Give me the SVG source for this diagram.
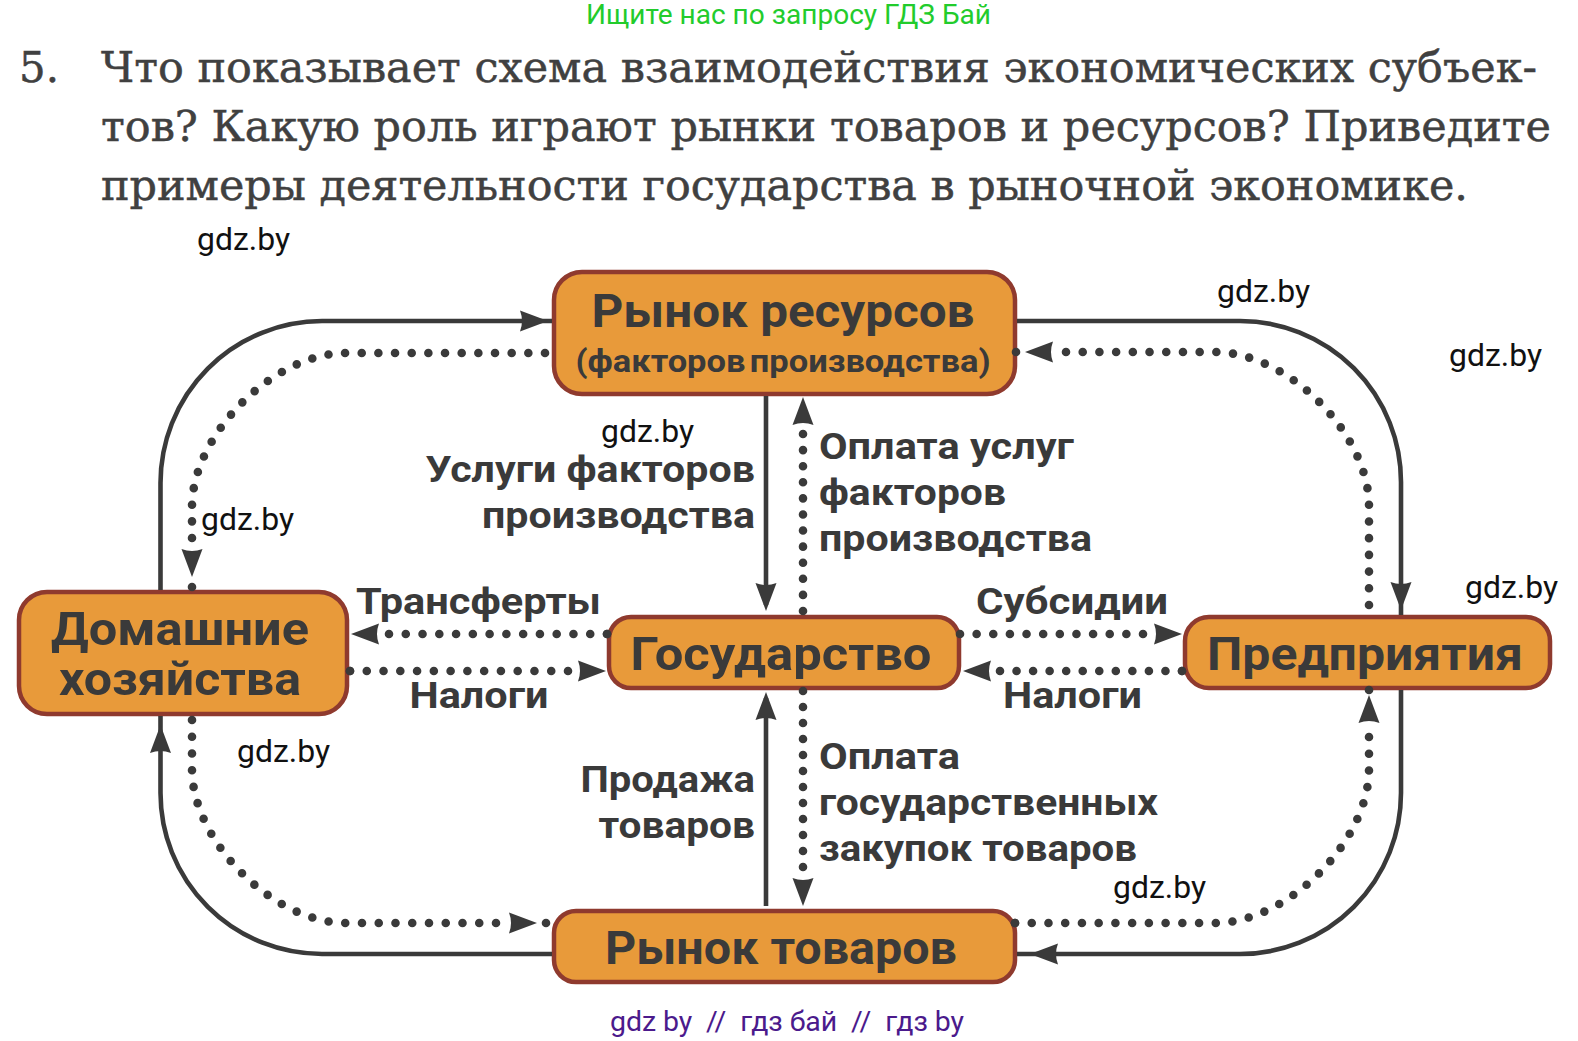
<svg xmlns="http://www.w3.org/2000/svg" width="1578" height="1041" viewBox="0 0 1578 1041">
<style>
text{font-family:Roboto,"Liberation Sans",sans-serif;fill:#3a3a3a}
.h{font-family:"DejaVu Serif","Liberation Serif",serif;font-size:42px;fill:#404040;stroke:#404040;stroke-width:.5}
.w{font-size:31px;fill:#111}
.n{font-weight:700;font-size:46px;text-anchor:middle}
.l{font-weight:700;font-size:37px}
.box{fill:#e89a3a;stroke:#8f3a2e;stroke-width:4.5}
.s{fill:none;stroke:#3a3a3a;stroke-width:4.6}
.d{fill:none;stroke:#3a3a3a;stroke-width:8.6;stroke-linecap:round;stroke-dasharray:0 1}
.a,.o{fill:#3a3a3a}
</style>
<defs><path id="arrow" d="M-28,-10.5 L0,0 L-28,10.5 Q-24,0 -28,-10.5Z"/></defs>
<rect width="1578" height="1041" fill="#fff"/>
<text x="586" y="24" font-size="28.5" textLength="405" lengthAdjust="spacingAndGlyphs" style="fill:#22cc2c">Ищите нас по запросу ГДЗ Бай</text>
<g id="question">
<text class="h" x="19" y="82" textLength="40" lengthAdjust="spacingAndGlyphs">5.</text>
<text class="h" x="101" y="82" textLength="1436" lengthAdjust="spacingAndGlyphs">Что показывает схема взаимодействия экономических субъек-</text>
<text class="h" x="101" y="141" textLength="1450" lengthAdjust="spacingAndGlyphs">тов? Какую роль играют рынки товаров и ресурсов? Приведите</text>
<text class="h" x="101" y="200" textLength="1367" lengthAdjust="spacingAndGlyphs">примеры деятельности государства в рыночной экономике.</text>
</g>
<g id="node-resources">
<rect class="box" x="554" y="272" width="461" height="122" rx="28"/>
<text class="n" x="783" y="327" textLength="383" lengthAdjust="spacingAndGlyphs">Рынок ресурсов</text>
<text class="n" x="783" y="372" style="font-size:32px;word-spacing:-4px" textLength="415" lengthAdjust="spacingAndGlyphs">(факторов производства)</text>
</g>
<g id="node-households">
<rect class="box" x="19" y="592" width="328" height="122" rx="28"/>
<text class="n" x="180" y="645" textLength="258" lengthAdjust="spacingAndGlyphs">Домашние</text>
<text class="n" x="180" y="695" textLength="242" lengthAdjust="spacingAndGlyphs">хозяйства</text>
</g>
<g id="node-government">
<rect class="box" x="609" y="617" width="350" height="71" rx="22"/>
<text class="n" x="781" y="670" textLength="301" lengthAdjust="spacingAndGlyphs">Государство</text>
</g>
<g id="node-firms">
<rect class="box" x="1185" y="617" width="365" height="71" rx="24"/>
<text class="n" x="1365" y="670" textLength="316" lengthAdjust="spacingAndGlyphs">Предприятия</text>
</g>
<g id="node-goods">
<rect class="box" x="554" y="911" width="461" height="71" rx="22"/>
<text class="n" x="781" y="964" textLength="352" lengthAdjust="spacingAndGlyphs">Рынок товаров</text>
</g>
<g id="connectors">
<path class="s" d="M160.5,590V483A162,162 0 0 1 322,321H552"/>
<path class="s" d="M1017,321H1240A161,161 0 0 1 1401,482V615"/>
<path class="s" d="M552,954H322A161.500,161 0 0 1 160.500,793V716"/>
<path class="s" d="M1401,690V793A161,161 0 0 1 1240,954H1017"/>
<path class="s" d="M766,396V605"/>
<path class="s" d="M766,906V698"/>
<path class="d" pathLength="28" d="M192,538V507C192,434.600 273.600,353 346,353H545"/>
<path class="d" pathLength="29" d="M1066,352H1215C1287.400,352 1369,433.600 1369,506V605"/>
<path class="d" pathLength="26" d="M496,923H346C273.600,923 192,841.400 192,769V720"/>
<path class="d" pathLength="28" d="M1369,737V769C1369,841.400 1287.400,923 1215,923H1015"/>
<path class="d" pathLength="11" d="M803,434V611"/>
<path class="d" pathLength="11" d="M803,867V691"/>
<path class="d" pathLength="13" d="M389,634H607"/>
<path class="d" pathLength="13" d="M568,671H350"/>
<path class="d" pathLength="11" d="M1143,634H960"/>
<path class="d" pathLength="11" d="M1000,671H1182"/>
<g class="o">
<circle cx="545" cy="353" r="4.3"/><circle cx="1369" cy="605" r="4.3"/><circle cx="192" cy="720" r="4.3"/><circle cx="1015" cy="923" r="4.3"/>
<circle cx="803" cy="611" r="4.3"/><circle cx="803" cy="691" r="4.3"/><circle cx="607" cy="634" r="4.3"/><circle cx="350" cy="671" r="4.3"/>
<circle cx="960" cy="634" r="4.3"/><circle cx="1182" cy="671" r="4.3"/>
<circle cx="1016" cy="352" r="4.3"/><circle cx="192" cy="587" r="4.3"/><circle cx="546" cy="923" r="4.3"/><circle cx="1369" cy="690" r="4.3"/>
</g>
<use href="#arrow" class="a" transform="translate(548,321)"/>
<use href="#arrow" class="a" transform="translate(1401,610) rotate(90)"/>
<use href="#arrow" class="a" transform="translate(160.500,725) rotate(-90)"/>
<use href="#arrow" class="a" transform="translate(1030,954) rotate(180)"/>
<use href="#arrow" class="a" transform="translate(766,611) rotate(90)"/>
<use href="#arrow" class="a" transform="translate(766,692) rotate(-90)"/>
<use href="#arrow" class="a" transform="translate(803,397) rotate(-90)"/>
<use href="#arrow" class="a" transform="translate(803,906) rotate(90)"/>
<use href="#arrow" class="a" transform="translate(1025,352) rotate(180)"/>
<use href="#arrow" class="a" transform="translate(192,577) rotate(90)"/>
<use href="#arrow" class="a" transform="translate(537,923)"/>
<use href="#arrow" class="a" transform="translate(1369,695) rotate(-90)"/>
<use href="#arrow" class="a" transform="translate(351,634) rotate(180)"/>
<use href="#arrow" class="a" transform="translate(606,671)"/>
<use href="#arrow" class="a" transform="translate(1182,634)"/>
<use href="#arrow" class="a" transform="translate(963,671) rotate(180)"/>
</g>
<g id="connector-labels">
<text class="l" x="425.500" y="482" textLength="329.500" lengthAdjust="spacingAndGlyphs">Услуги факторов</text>
<text class="l" x="482" y="528" textLength="273" lengthAdjust="spacingAndGlyphs">производства</text>
<text class="l" x="819" y="459" textLength="255" lengthAdjust="spacingAndGlyphs">Оплата услуг</text>
<text class="l" x="819" y="505" textLength="187" lengthAdjust="spacingAndGlyphs">факторов</text>
<text class="l" x="819" y="551" textLength="273" lengthAdjust="spacingAndGlyphs">производства</text>
<text class="l" x="356" y="614" textLength="245" lengthAdjust="spacingAndGlyphs">Трансферты</text>
<text class="l" x="409.500" y="708" textLength="139" lengthAdjust="spacingAndGlyphs">Налоги</text>
<text class="l" x="976" y="614" textLength="192" lengthAdjust="spacingAndGlyphs">Субсидии</text>
<text class="l" x="1003" y="708" textLength="139" lengthAdjust="spacingAndGlyphs">Налоги</text>
<text class="l" x="580.500" y="792" textLength="174.500" lengthAdjust="spacingAndGlyphs">Продажа</text>
<text class="l" x="598.500" y="838" textLength="156.500" lengthAdjust="spacingAndGlyphs">товаров</text>
<text class="l" x="819" y="769" textLength="141" lengthAdjust="spacingAndGlyphs">Оплата</text>
<text class="l" x="819" y="815" textLength="339" lengthAdjust="spacingAndGlyphs">государственных</text>
<text class="l" x="819" y="861" textLength="318" lengthAdjust="spacingAndGlyphs">закупок товаров</text>
</g>
<g id="watermarks">
<text class="w" x="197" y="250" textLength="93" lengthAdjust="spacingAndGlyphs">gdz.by</text>
<text class="w" x="1217" y="302" textLength="93" lengthAdjust="spacingAndGlyphs">gdz.by</text>
<text class="w" x="1449" y="366" textLength="93" lengthAdjust="spacingAndGlyphs">gdz.by</text>
<text class="w" x="601" y="442" textLength="93" lengthAdjust="spacingAndGlyphs">gdz.by</text>
<text class="w" x="201" y="530" textLength="93" lengthAdjust="spacingAndGlyphs">gdz.by</text>
<text class="w" x="1465" y="598" textLength="93" lengthAdjust="spacingAndGlyphs">gdz.by</text>
<text class="w" x="237" y="762" textLength="93" lengthAdjust="spacingAndGlyphs">gdz.by</text>
<text class="w" x="1113" y="898" textLength="93" lengthAdjust="spacingAndGlyphs">gdz.by</text>
<text x="610" y="1031" font-size="28.5" xml:space="preserve" textLength="354" lengthAdjust="spacing" style="fill:#4b1a8c">gdz by  //  гдз бай  //  гдз by</text>
</g>
</svg>
